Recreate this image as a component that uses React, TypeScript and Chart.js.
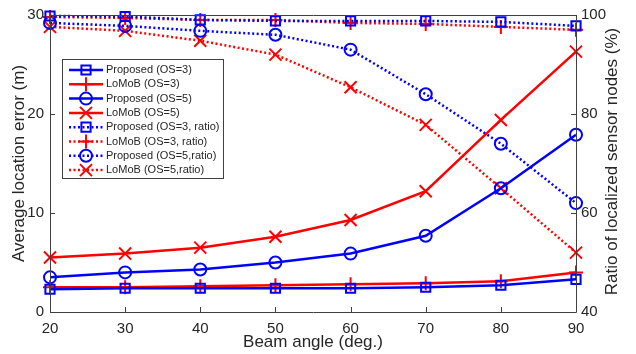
import React, { useEffect, useRef } from 'react';
import { Chart, registerables } from 'chart.js';
import { drawPoint } from 'chart.js/helpers';

Chart.register(...registerables);

const angles = [20, 30, 40, 50, 60, 70, 80, 90];
const proposedOS3 = [2.3, 2.4, 2.4, 2.4, 2.4, 2.5, 2.7, 3.3];
const lomobOS3 = [2.5, 2.5, 2.6, 2.7, 2.8, 2.9, 3.1, 4.0];
const proposedOS5 = [3.5, 4.0, 4.3, 5.0, 5.9, 7.7, 12.5, 17.9];
const lomobOS5 = [5.5, 5.9, 6.5, 7.6, 9.3, 12.2, 19.4, 26.3];
const proposedOS3Ratio = [99.8, 99.7, 99.0, 98.8, 98.8, 98.8, 98.6, 97.8];
const lomobOS3Ratio = [99.6, 99.4, 99.0, 99.0, 98.4, 98.2, 97.6, 97.0];
const proposedOS5Ratio = [98.4, 97.8, 96.8, 96.0, 93.0, 84.0, 74.0, 62.0];
const lomobOS5Ratio = [97.6, 96.8, 94.8, 92.0, 85.4, 77.8, 65.0, 52.0];

const leftTicks = [0, 10, 20, 30];
const rightTicks = [40, 60, 80, 100];

const xTitle = 'Beam angle (deg.)';
const leftTitle = 'Average location error (m)';
const rightTitle = 'Ratio of localized sensor nodes (%)';

const BLUE = '#0000ff';
const RED = '#ff0000';
const AXIS = '#404040';
const TEXT = '#262626';
const FONT = '"Liberation Sans", Arial, sans-serif';

export default function App() {
  const ref = useRef<HTMLCanvasElement>(null);

  useEffect(() => {
    document.body.style.margin = '0';
    const canvas = ref.current!;

    const mk = (label: string, data: number[], color: string, style: string, radius: number, dotted: boolean, axis: string) => ({
      label,
      data,
      borderColor: color,
      backgroundColor: 'transparent',
      pointBackgroundColor: 'transparent',
      pointBorderColor: color,
      pointStyle: style,
      pointRadius: radius,
      pointHoverRadius: radius,
      pointBorderWidth: 2,
      borderWidth: 2.5,
      borderDash: dotted ? [2, 2.5] : [],
      yAxisID: axis,
      clip: false,
      tension: 0,
    });

    const datasets = [
      mk('Proposed (OS=3)', proposedOS3, BLUE, 'rect', 6.5, false, 'y'),
      mk('LoMoB (OS=3)', lomobOS3, RED, 'cross', 7, false, 'y'),
      mk('Proposed (OS=5)', proposedOS5, BLUE, 'circle', 6, false, 'y'),
      mk('LoMoB (OS=5)', lomobOS5, RED, 'crossRot', 8.5, false, 'y'),
      mk('Proposed (OS=3, ratio)', proposedOS3Ratio, BLUE, 'rect', 6.5, true, 'y1'),
      mk('LoMoB (OS=3, ratio)', lomobOS3Ratio, RED, 'cross', 7, true, 'y1'),
      mk('Proposed (OS=5,ratio)', proposedOS5Ratio, BLUE, 'circle', 6, true, 'y1'),
      mk('LoMoB (OS=5,ratio)', lomobOS5Ratio, RED, 'crossRot', 8.5, true, 'y1'),
    ];

    const framePlugin = {
      id: 'frame',
      afterDraw(chart: any) {
        const ctx = chart.ctx;
        const { left, right, top, bottom } = chart.chartArea;
        const sx = chart.scales.x, sy = chart.scales.y, sy1 = chart.scales.y1;
        ctx.save();
        ctx.strokeStyle = AXIS;
        ctx.lineWidth = 1;
        ctx.beginPath();
        ctx.moveTo(left + 0.5, top + 0.5);
        ctx.lineTo(right + 0.5, top + 0.5);
        ctx.moveTo(left + 0.5, top);
        ctx.lineTo(left + 0.5, bottom + 0.5);
        ctx.lineTo(right + 0.5, bottom + 0.5);
        ctx.moveTo(right + 0.5, top);
        ctx.lineTo(right + 0.5, bottom + 0.5);
        const tl = 5;
        angles.forEach((_, i) => {
          const px = Math.round(sx.getPixelForValue(i)) + 0.5;
          ctx.moveTo(px, bottom);
          ctx.lineTo(px, bottom - tl);
        });
        leftTicks.forEach((v) => {
          const py = Math.round(sy.getPixelForValue(v)) + 0.5;
          ctx.moveTo(left, py);
          ctx.lineTo(left + tl, py);
        });
        rightTicks.forEach((v) => {
          const py = Math.round(sy1.getPixelForValue(v)) + 0.5;
          ctx.moveTo(right, py);
          ctx.lineTo(right - tl, py);
        });
        ctx.stroke();

        // axis titles
        ctx.fillStyle = TEXT;
        ctx.font = `17px ${FONT}`;
        ctx.textAlign = 'center';
        ctx.textBaseline = 'middle';
        ctx.fillText(xTitle, (left + right) / 2, 342);
        ctx.save();
        ctx.translate(19, (top + bottom) / 2);
        ctx.rotate(-Math.PI / 2);
        ctx.fillText(leftTitle, 0, 0);
        ctx.restore();
        ctx.save();
        ctx.translate(612, (top + bottom) / 2 - 2);
        ctx.rotate(-Math.PI / 2);
        ctx.fillText(rightTitle, 0, 0);
        ctx.restore();

        // legend
        const bx = 62, by = 59, bw = 161, bh = 119;
        ctx.fillStyle = '#ffffff';
        ctx.fillRect(bx, by, bw, bh);
        ctx.strokeStyle = AXIS;
        ctx.lineWidth = 1;
        ctx.strokeRect(bx + 0.5, by + 0.5, bw, bh);
        ctx.font = `11px ${FONT}`;
        ctx.textAlign = 'left';
        ctx.textBaseline = 'middle';
        chart.data.datasets.forEach((ds: any, i: number) => {
          const y = 70 + i * 14.3;
          ctx.save();
          ctx.strokeStyle = ds.borderColor;
          ctx.lineWidth = ds.borderWidth;
          ctx.setLineDash(ds.borderDash);
          ctx.beginPath();
          ctx.moveTo(69, y);
          ctx.lineTo(103, y);
          ctx.stroke();
          ctx.setLineDash([]);
          ctx.strokeStyle = ds.pointBorderColor;
          ctx.fillStyle = 'rgba(0,0,0,0)';
          ctx.lineWidth = ds.pointBorderWidth;
          drawPoint(ctx, { pointStyle: ds.pointStyle, rotation: 0, radius: ds.pointRadius, borderWidth: ds.pointBorderWidth }, 86, y);
          ctx.restore();
          ctx.fillStyle = TEXT;
          ctx.fillText(ds.label, 106, y);
        });
        ctx.restore();
      },
    };

    const tickFont = { family: FONT, size: 15 };

    const chart = new Chart(canvas, {
      type: 'line',
      data: { labels: angles.map(String), datasets: datasets as any },
      options: {
        responsive: false,
        animation: false,
        layout: { padding: { top: 12, left: 0, right: 0, bottom: 0 } },
        plugins: { legend: { display: false }, tooltip: { enabled: false } },
        events: [],
        scales: {
          x: {
            type: 'category',
            offset: false,
            grid: { display: false, drawTicks: false },
            border: { display: false },
            ticks: { font: tickFont, color: TEXT, padding: 8, maxRotation: 0, autoSkip: false },
            afterFit: (s: any) => { s.height = 42; },
          },
          y: {
            type: 'linear',
            position: 'left',
            min: 0,
            max: 30,
            grid: { display: false, drawTicks: false },
            border: { display: false },
            ticks: { stepSize: 10, font: tickFont, color: TEXT, padding: 6 },
            afterFit: (s: any) => { s.width = 50; },
          },
          y1: {
            type: 'linear',
            position: 'right',
            min: 40,
            max: 100,
            grid: { display: false, drawTicks: false },
            border: { display: false },
            ticks: { stepSize: 20, font: tickFont, color: TEXT, padding: 5 },
            afterFit: (s: any) => { s.width = 60; },
          },
        },
      } as any,
      plugins: [framePlugin],
    });

    return () => chart.destroy();
  }, []);

  return (
    <div style={{ width: 636, height: 354, background: '#fff' }}>
      <canvas ref={ref} width={636} height={354} style={{ display: 'block' }} />
    </div>
  );
}
